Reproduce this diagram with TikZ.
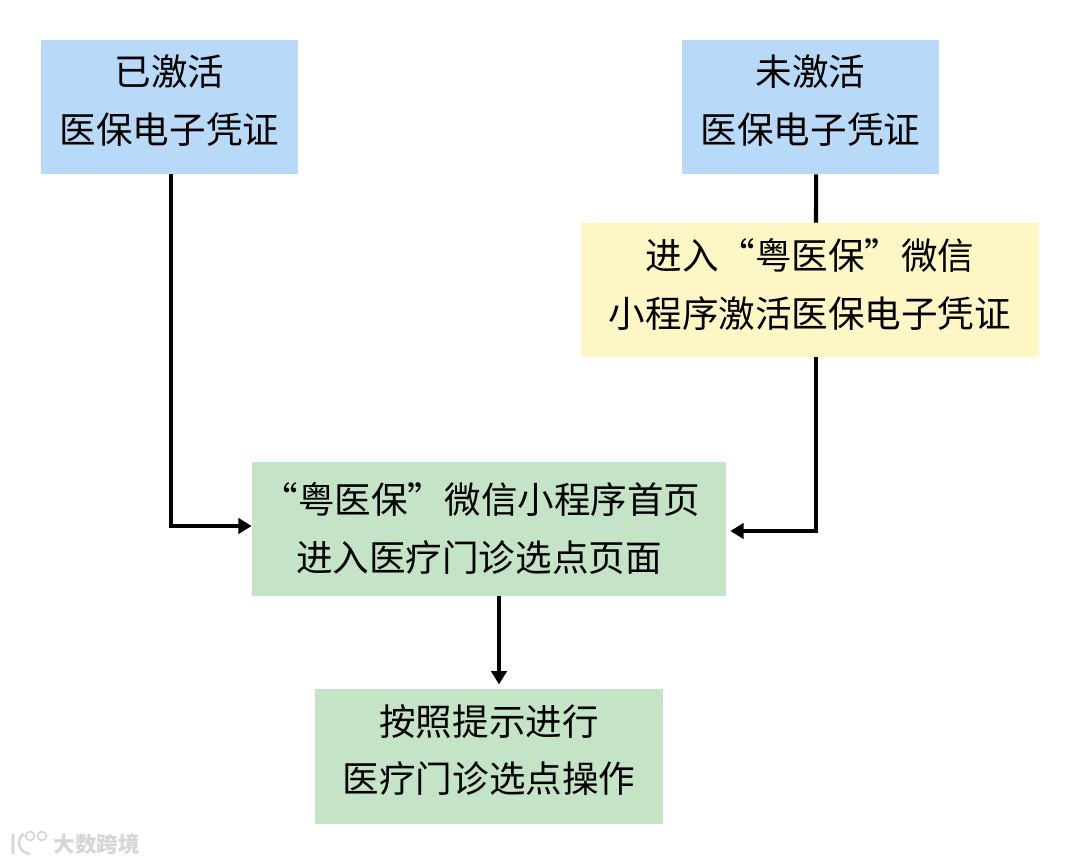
\documentclass[tikz,border=0pt]{standalone}
\usepackage{fontspec}
\setmainfont{Noto Sans CJK SC}
\usepackage[svgnames]{xcolor}
\usetikzlibrary{arrows.meta}
\definecolor{boxBlue}{HTML}{B8D9F7}
\definecolor{boxYellow}{HTML}{FFF6C6}
\definecolor{boxGreen}{HTML}{C5E3C7}
\tikzset{
  stepbox/.style={inner sep=0pt,align=center,font=\fontsize{26}{41.2}\selectfont},
  flow/.style={line width=2.9pt,-{Triangle[length=0.33cm,width=0.38cm]}},
  plain/.style={line width=2.9pt}
}

\begin{document}
\begin{tikzpicture}[x=0.025cm,y=-0.025cm]
    \useasboundingbox (0,0) rectangle (1080,864);
    \node[stepbox,fill=boxBlue,minimum width=6.425cm,minimum height=3.35cm] (active) at (169.5,107) {已激活\\医保电子凭证\\[-1.05cm]};
    \node[stepbox,fill=boxBlue,minimum width=6.425cm,minimum height=3.35cm] (inactive) at (810.5,107) {未激活\\医保电子凭证\\[-1.05cm]};
    \node[stepbox,fill=boxYellow,minimum width=11.45cm,minimum height=3.35cm] (activate) at (810,290) {进入“粤医保”微信\\小程序激活医保电子凭证\\[-1.1cm]};
    \node[stepbox,fill=boxGreen,minimum width=11.85cm,minimum height=3.35cm] (home) at (489,529) {\hspace*{-0.4cm}“粤医保”微信小程序首页\\\hspace*{-0.5cm}进入医疗门诊选点页面\\[-1.35cm]};
    \node[stepbox,fill=boxGreen,minimum width=8.7cm,minimum height=3.35cm] (operate) at (489,756.5) {按照提示进行\\医疗门诊选点操作\\[-1.05cm]};
    \coordinate (homeleft) at ([yshift=0.075cm]home.west);
    \coordinate (homeright) at ([xshift=0.1cm,yshift=-0.05cm]home.east);
    \draw[plain] ([xshift=0.14cm]inactive.south) -- ([xshift=0.15cm]activate.north);
    \draw[flow] ([xshift=0.04cm]active.south) |- (homeleft);
    \draw[flow] ([xshift=0.15cm]activate.south) |- (homeright);
    \draw[flow] ([xshift=0.25cm]home.south) -- ([xshift=0.25cm,yshift=0.12cm]operate.north);
    % watermark
    \node[text=black!16,font=\fontsize{15.3}{16}\bfseries\selectfont,inner sep=0pt] (mark) at (97,844) {大数跨境};
    \draw[black!16,line width=1.2pt] (30,836) circle (4.5) (42,836) circle (4.5);
    \draw[black!16,line width=1.8pt] (13,834) -- (13,854) (24,834) .. controls (16,838) and (17,852) .. (30,854);
\end{tikzpicture}
\end{document}
